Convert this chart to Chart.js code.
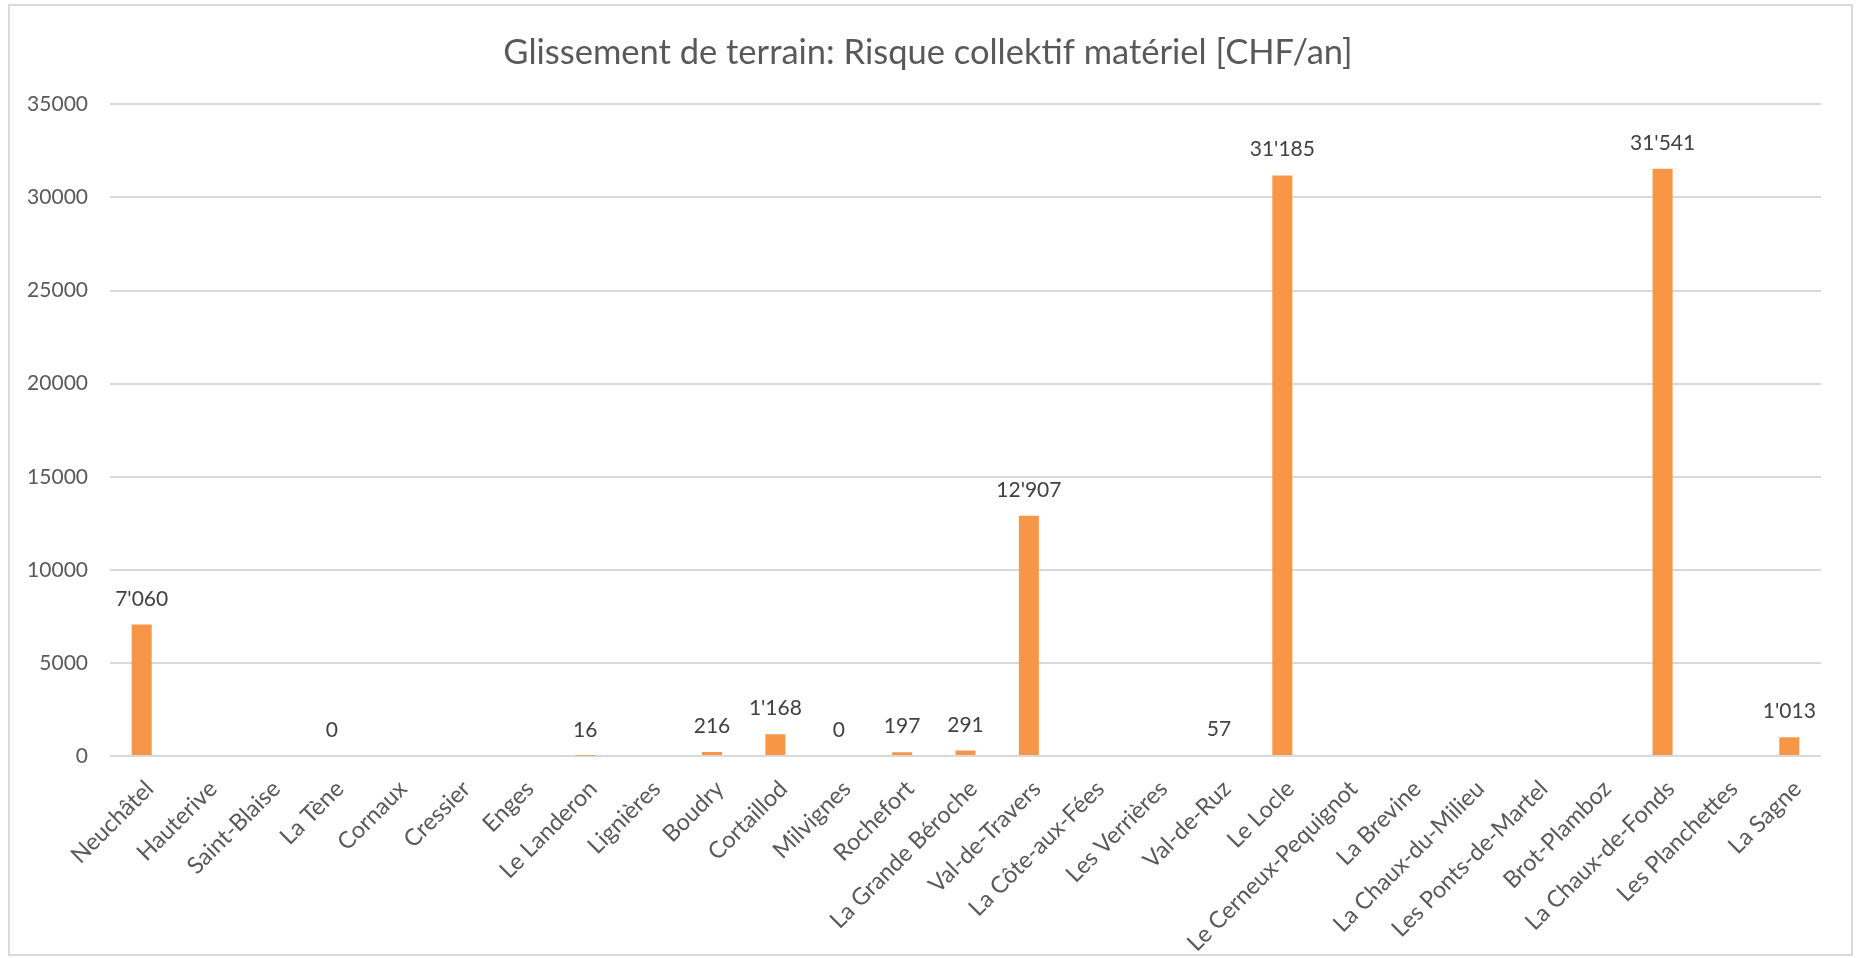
<!DOCTYPE html>
<html>
<head>
<meta charset="utf-8">
<script src="https://cdn.jsdelivr.net/npm/chart.js@4/dist/chart.umd.min.js"></script>
<style>
  html, body { margin: 0; padding: 0; background: #fff; }
  #cadre { position: absolute; left: 8px; top: 4px; width: 1841px; height: 948px; border: 2px solid #d9d9d9; }
  #zone { position: absolute; left: 0; top: 0; width: 1856px; height: 958px; }
</style>
</head>
<body>
<div id="cadre"></div>
<div id="zone"><canvas id="graphique"></canvas></div>
<script>
var communes = ['Neuchâtel', 'Hauterive', 'Saint-Blaise', 'La Tène', 'Cornaux', 'Cressier', 'Enges',
  'Le Landeron', 'Lignières', 'Boudry', 'Cortaillod', 'Milvignes', 'Rochefort', 'La Grande Béroche',
  'Val-de-Travers', 'La Côte-aux-Fées', 'Les Verrières', 'Val-de-Ruz', 'Le Locle', 'Le Cerneux-Pequignot',
  'La Brevine', 'La Chaux-du-Milieu', 'Les Ponts-de-Martel', 'Brot-Plamboz', 'La Chaux-de-Fonds',
  'Les Planchettes', 'La Sagne']
var risque = [7060, null, null, 0, null, null, null, 16, null, 216, 1168, 0, 197, 291, 12907,
  null, null, 57, 31185, null, null, null, null, null, 31541, null, 1013]
var titre = 'Glissement de terrain: Risque collektif matériel [CHF/an]'
var yMax = 35000
var yPas = 5000

function formater(v) {
  return String(v).replace(/\B(?=(\d{3})+(?!\d))/g, "'")
}

// etiquettes au-dessus des barres
var etiquettes = {
  id: 'etiquettes',
  afterDatasetsDraw: function(chart) {
    var ctx = chart.ctx
    var meta = chart.getDatasetMeta(0)
    ctx.save()
    ctx.font = '21px Lato'
    ctx.fillStyle = '#404040'
    ctx.textAlign = 'center'
    ctx.textBaseline = 'alphabetic'
    meta.data.forEach(function(barre, i) {
      var v = risque[i]
      if (v === null) return
      ctx.fillText(formater(v), barre.x, barre.y - 19)
    })
    ctx.restore()
  }
}

const ctx = document.getElementById('graphique')
var chartRisque = new Chart(ctx, {
  type: 'bar',
  data: {
    labels: communes,
    datasets: [{
      data: risque,
      yAxisID: 'y',
      backgroundColor: '#F79646',
      categoryPercentage: 1,
      barPercentage: 0.316
    }]
  },
  options: {
    responsive: true,
    maintainAspectRatio: false,
    animation: false,
    layout: { padding: { left: 20, right: 20, top: 0, bottom: 0 } },
    scales: {
      y: {
        min: 0,
        max: yMax,
        ticks: {
          stepSize: yPas,
          color: '#595959',
          font: { family: 'Lato', size: 21 },
          padding: 22,
          callback: function(v) { return String(v) }
        },
        grid: { color: '#d9d9d9', lineWidth: 2, drawTicks: false },
        border: { display: false },
        afterFit: function(s) { s.width = 90 }
      },
      // axe vide a droite pour garder le titre centre
      droite: {
        type: 'linear',
        position: 'right',
        ticks: { display: false },
        grid: { display: false, drawTicks: false },
        border: { display: false },
        afterFit: function(s) { s.width = 15 }
      },
      x: {
        ticks: {
          color: '#595959',
          font: { family: 'Lato', size: 23.5 },
          minRotation: 45,
          maxRotation: 45,
          padding: 19,
          labelOffset: 8,
          autoSkip: false
        },
        grid: { display: false, drawTicks: false },
        border: { display: false },
        afterFit: function(s) { s.height = 202 }
      }
    },
    plugins: {
      legend: { display: false },
      tooltip: { enabled: false },
      title: {
        display: true,
        text: titre,
        color: '#595959',
        font: { family: 'Lato', size: 34.5, weight: 'normal' },
        padding: { top: 32, bottom: 31 }
      }
    }
  },
  plugins: [etiquettes]
})
</script>
</body>
</html>
